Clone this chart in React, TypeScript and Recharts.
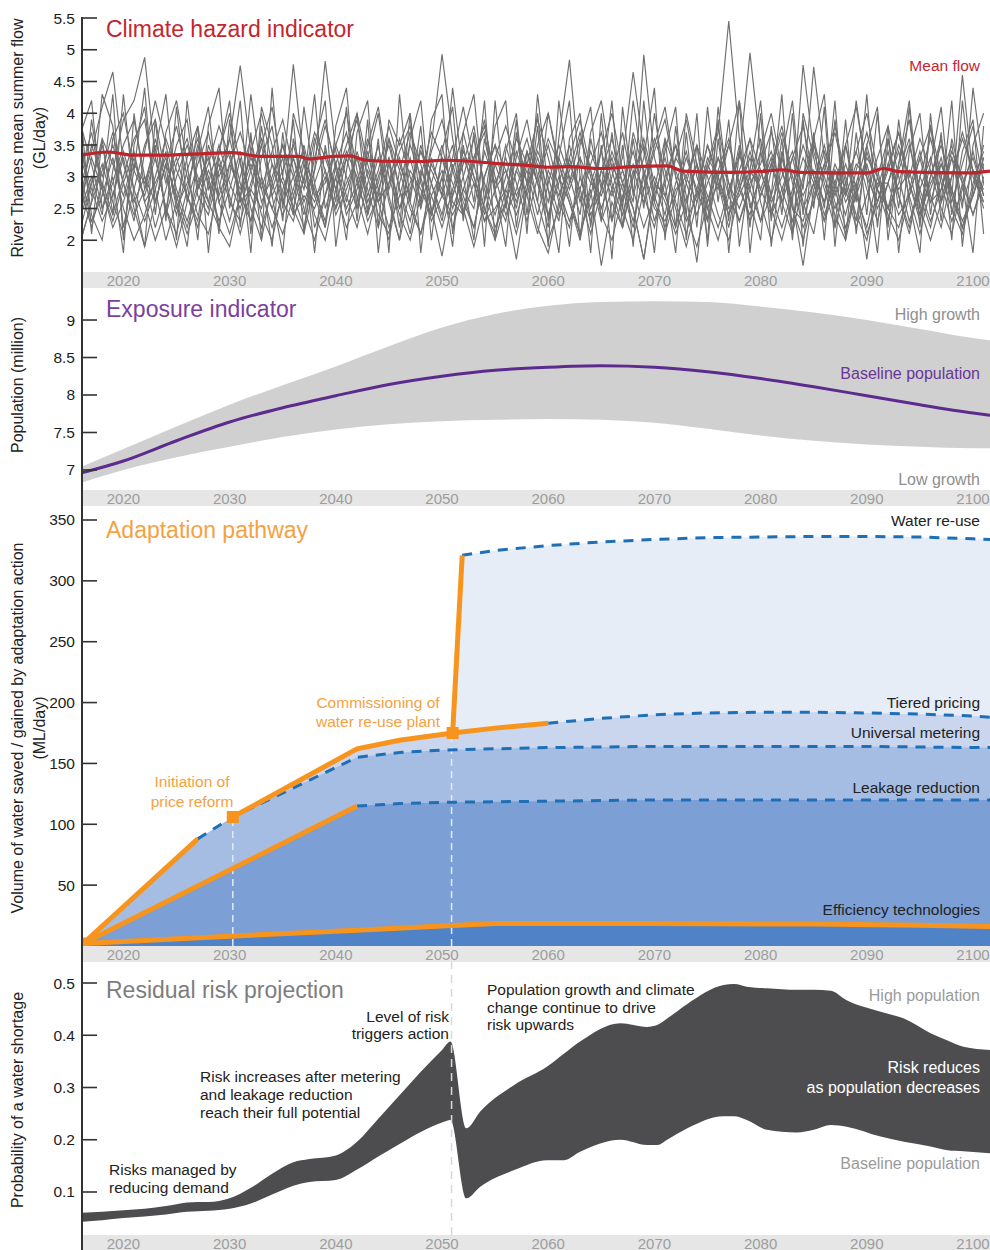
import React from "react"
import { ComposedChart, Line, Area, Scatter, XAxis, YAxis, ReferenceLine } from "recharts"

const FONT = '"Liberation Sans", Arial, Helvetica, sans-serif'
const X_MIN = 2016.1
const X_MAX = 2101.6
const YEAR_TICKS = [2020, 2030, 2040, 2050, 2060, 2070, 2080, 2090, 2100]

// ---- Climate hazard indicator: ensemble of summer flows (GL/day), 2016-2101
const FLOW_TICKS = [2, 2.5, 3, 3.5, 4, 4.5, 5, 5.5]
const FLOW_M1 = [2.9,3.4,4.1,4.65,3.2,2.6,3.0,2.2,2.8,3.5, 3.9,2.7,2.4,3.1,3.6,2.9,2.3,3.3,3.8,2.6, 3.0,3.4,2.2,2.7,3.5,4.0,3.1,2.5,2.9,3.6, 2.8,2.1,3.0,3.7,3.3,2.6,2.4,3.2,3.9,2.8, 3.1,2.5,3.4,2.9,2.2,3.6,4.84,3.0,2.4,2.8, 3.3,2.6,3.7,3.1,2.3,2.9,3.5,2.7,1.65,3.2, 3.8,2.9,2.5,3.0,3.6,2.4,2.8,3.3,2.6,2.1, 3.1,3.7,2.9,2.3,3.4,2.8,2.5,3.2,3.9,2.7, 2.2,3.0,3.5,2.6,3.1,2.8]
const FLOW_M2 = [3.6,2.4,2.0,3.1,3.9,4.2,4.88,3.3,2.5,2.1, 2.8,3.5,3.0,2.2,1.9,2.7,3.4,4.0,3.2,2.6, 2.3,3.0,3.7,3.3,2.8,2.2,2.6,3.5,4.1,3.0, 2.4,2.0,2.7,3.4,3.9,3.1,2.5,1.9,2.6,3.3, 3.8,3.2,2.7,2.1,2.9,3.5,3.0,2.4,3.7,4.2, 3.1,2.5,2.0,2.8,3.4,3.9,3.0,2.3,2.7,3.5, 2.9,2.2,3.1,3.6,2.6,2.0,2.7,3.3,3.8,3.0, 2.4,2.9,3.5,2.8,2.1,2.6,3.2,3.7,2.9,2.3, 3.0,3.6,2.7,2.2,2.9,3.4]
const FLOW_M3 = [2.2,2.9,3.5,2.7,3.3,2.5,1.9,2.6,3.2,3.8, 3.0,2.4,2.1,2.8,3.6,4.75,3.4,2.6,3.0,3.5, 2.7,2.2,3.1,3.8,3.2,2.4,2.8,3.4,2.6,2.0, 2.9,3.5,3.0,2.3,2.7,3.3,4.1,3.2,2.5,2.1, 2.8,3.4,2.9,2.2,1.8,2.6,3.3,3.9,3.1,2.4, 2.0,2.7,3.2,2.8,3.5,4.1,3.0,2.4,1.9,2.6, 3.3,2.9,2.3,2.8,3.4,4.0,3.1,2.5,2.0,2.7, 3.2,2.6,2.1,2.9,3.5,2.8,2.3,3.1,3.6,2.5, 2.0,2.6,3.3,2.9,2.4,3.0]
const FLOW_M4 = [3.1,3.7,2.8,2.3,2.9,3.4,2.6,2.0,2.5,3.2, 3.6,2.9,2.5,3.3,2.7,2.1,2.8,3.5,4.1,3.0, 4.77,3.2,2.4,2.0,2.8,3.4,3.0,2.3,2.7,3.6, 3.1,2.5,2.1,2.9,3.5,2.7,3.2,3.8,2.8,2.2, 2.6,3.3,3.9,3.0,2.4,2.9,3.5,2.7,2.1,2.8, 3.4,2.9,2.3,3.0,3.6,3.1,2.5,1.9,2.6,3.2, 2.8,3.5,4.2,3.0,2.3,2.7,3.3,2.6,1.6,2.8, 3.4,2.9,2.4,3.1,3.7,3.0,2.4,2.0,2.7,3.3, 3.8,3.0,2.5,2.1,2.8,3.5]
const FLOW_M5 = [2.5,3.0,2.4,3.6,4.0,3.1,2.7,3.3,2.5,1.9, 2.6,3.2,3.7,2.9,2.3,3.0,3.6,2.8,2.2,2.7, 3.3,2.6,3.1,4.82,3.4,2.7,2.2,2.9,3.5,2.6, 2.0,2.8,3.4,2.9,2.3,3.1,3.7,3.0,2.4,3.2, 2.7,2.1,2.8,3.5,4.0,3.2,2.6,2.0,2.9,3.4, 2.8,2.2,3.0,3.6,2.9,2.4,3.3,3.9,3.0,2.5, 2.0,2.7,3.4,2.8,2.3,3.1,3.7,2.9,2.2,2.6, 3.2,3.8,3.0,2.4,2.0,2.8,3.4,2.7,2.2,3.0, 3.6,2.9,2.3,2.8,3.4,2.7]
const FLOW_M6 = [3.3,2.7,3.2,2.6,2.1,2.8,3.5,3.9,3.0,2.4, 3.1,3.6,2.9,2.3,2.8,3.4,2.5,2.0,2.9,3.5, 3.0,2.4,3.3,3.9,3.1,2.5,2.9,3.6,2.8,2.2, 2.7,3.3,2.6,3.5,4.93,3.6,2.7,2.2,3.0,3.5, 2.6,1.7,2.8,3.4,3.0,2.4,2.9,3.6,3.1,2.5, 3.0,3.7,2.8,2.2,2.7,3.3,2.6,2.1,2.8,3.5, 3.0,2.4,2.9,3.6,3.1,2.5,2.0,2.7,3.3,2.9, 2.3,2.8,3.5,4.1,3.1,2.5,2.9,3.4,2.7,2.1, 2.8,3.3,2.6,3.2,3.8,2.9]
const FLOW_M7 = [2.0,2.6,3.1,3.7,2.9,2.3,3.4,4.2,3.5,2.8, 2.3,2.9,3.3,2.6,2.1,2.7,3.2,2.8,3.4,3.9, 3.1,2.5,2.0,2.7,3.2,3.7,2.9,2.4,3.0,3.5, 2.8,2.3,3.1,2.7,2.2,2.8,3.4,3.0,2.5,2.0, 2.6,3.1,3.6,2.9,2.4,3.0,2.6,2.1,2.7,3.4, 4.0,3.1,2.6,4.92,3.3,2.7,2.2,2.9,3.5,3.0, 2.4,2.0,2.8,3.3,2.7,3.2,3.8,3.0,2.5,2.9, 3.5,2.8,2.2,2.7,3.2,2.6,3.1,3.7,2.9,2.4, 3.0,3.5,2.8,2.2,2.7,3.2]
const FLOW_M8 = [3.8,3.2,2.5,2.9,3.5,3.9,3.0,2.6,3.2,2.7, 2.2,2.8,3.2,3.8,3.3,2.7,2.3,3.0,2.5,2.1, 2.7,3.3,2.8,2.3,3.0,3.5,4.0,3.2,2.6,2.9, 3.3,2.6,2.1,2.7,3.1,2.5,3.0,3.6,2.9,2.4, 3.0,3.6,3.2,2.6,2.0,2.5,3.1,3.7,3.0,2.3, 2.8,3.3,4.65,3.4,2.6,2.1,2.7,3.3,2.8,2.3, 3.0,3.5,2.9,2.3,2.7,3.2,2.6,2.1,2.9,3.5, 3.0,2.5,2.9,3.4,4.0,3.1,2.5,2.2,2.8,3.4, 2.7,2.2,3.0,3.6,3.1,2.5]
const FLOW_M9 = [2.6,3.3,2.8,2.2,2.6,3.2,2.9,3.5,2.4,3.0, 3.5,3.0,2.6,3.4,4.0,3.2,2.7,2.2,2.8,3.3, 2.5,2.1,2.9,3.4,2.8,3.3,3.9,3.0,2.4,2.1, 3.1,3.7,3.2,2.5,1.75,2.7,3.3,2.9,2.3,2.8, 3.5,2.9,2.3,3.0,3.6,3.2,2.7,2.1,2.8,1.6, 2.6,2.2,3.0,3.5,2.7,2.2,2.9,3.4,2.7,3.1, 3.7,5.45,3.6,2.5,3.0,3.4,2.8,2.3,3.0,3.6, 2.9,2.4,2.0,2.8,3.3,3.0,2.5,2.9,3.5,2.8, 2.3,2.8,3.4,3.0,2.4,2.9]
const FLOW_M10 = [3.0,2.3,2.7,3.3,2.5,2.0,2.4,3.0,3.6,3.1, 2.7,2.2,2.9,3.5,2.9,2.5,3.1,3.6,2.9,2.4, 2.8,3.5,2.7,2.2,3.2,2.6,3.4,2.8,2.2,2.9, 3.6,3.0,2.5,3.2,2.8,2.2,2.8,3.3,3.8,3.0, 2.4,2.8,3.4,2.9,3.5,2.8,2.3,2.8,3.4,2.9, 2.3,2.9,2.5,1.7,2.8,3.6,3.1,2.6,3.2,2.7, 2.2,2.8,3.3,4.95,3.4,2.7,2.2,2.8,3.5,3.0, 2.6,3.2,2.8,2.2,2.7,3.3,3.8,3.0,2.3,2.8, 3.3,2.6,3.0,3.7,3.1,2.6]
const FLOW_M11 = [2.4,2.9,3.6,3.2,2.7,3.3,2.6,2.9,3.3,2.6, 2.1,2.6,3.1,2.7,3.2,3.7,3.1,2.4,2.0,2.8, 3.3,2.8,3.6,3.1,2.5,2.9,3.3,2.6,3.1,3.8, 3.2,2.7,3.5,2.9,2.4,3.2,2.6,2.2,3.0,3.5, 3.1,2.6,3.2,3.9,3.3,2.6,2.2,3.0,2.5,3.1, 3.6,2.9,3.4,2.7,2.2,3.0,3.5,2.9,2.4,2.9, 3.3,2.7,2.3,2.9,3.2,3.7,3.1,2.6,4.76,3.4, 2.8,2.2,2.9,3.4,2.8,2.3,2.9,3.5,3.0,3.6, 3.1,2.5,2.1,2.9,3.3,2.7]
const FLOW_M12 = [2.8,2.2,2.9,2.4,3.0,3.6,3.9,2.8,2.0,2.6, 3.3,3.8,2.8,3.2,2.6,2.3,2.9,3.5,2.7,3.1, 3.5,2.9,2.6,3.1,2.4,2.8,3.3,2.7,3.3,2.8, 3.4,3.8,2.9,2.4,3.3,2.9,2.4,3.3,3.7,2.7, 2.3,3.1,2.7,3.3,2.8,2.3,3.3,2.6,3.2,3.7, 2.9,2.4,3.1,2.6,3.0,2.6,2.1,2.6,3.2,2.6, 3.1,3.6,2.8,2.4,3.1,2.6,3.0,3.4,2.8,4.73, 3.3,2.7,3.2,2.7,2.2,3.0,3.6,2.7,2.1,3.0, 2.6,3.2,2.8,2.3,2.7,3.3]
const FLOW_M13 = [3.4,2.8,2.3,2.7,3.4,2.8,2.3,2.8,3.4,2.5, 2.9,3.4,2.6,2.2,3.2,2.8,3.3,2.9,2.5,3.0, 2.5,3.2,2.7,2.9,3.5,3.0,2.5,3.1,2.6,3.2, 2.5,2.9,3.4,3.1,2.7,2.4,2.8,2.5,3.4,2.9, 3.3,2.7,3.1,2.4,3.1,2.7,3.2,2.8,2.3,3.1, 2.7,3.1,2.5,1.7,2.9,2.7,3.3,3.0,2.6,3.3, 3.0,2.5,2.7,3.1,2.8,3.3,2.6,3.1,2.7,3.1, 2.6,3.1,2.7,3.2,3.0,2.6,3.2,2.8,3.1,2.4, 2.9,3.2,2.7,4.6,3.0,2.6]
const FLOW_M14 = [2.7,3.5,3.0,3.5,2.9,2.4,2.8,3.6,2.9,3.3, 2.7,2.3,3.5,3.0,3.4,2.6,2.8,2.5,3.2,2.9, 2.4,2.7,2.5,3.0,2.5,3.3,2.7,2.1,2.8,3.3, 2.5,3.1,2.8,2.4,3.0,3.5,2.4,2.9,2.3,2.5, 2.8,2.4,2.9,3.2,2.6,3.3,2.8,3.3,2.9,2.7, 3.2,2.8,2.2,3.1,2.5,2.3,2.8,3.0,3.5,2.5, 2.9,2.4,2.8,3.4,2.8,2.4,3.4,2.5,2.3,2.9, 2.3,3.1,2.6,2.9,1.7,2.9,2.9,2.4,2.7,3.3, 2.6,2.8,3.3,2.5,4.4,3.1]
const FLOW_M15 = [4.0,2.1,3.6,2.4,4.3,2.7,1.9,3.9,2.3,4.1, 2.6,3.8,1.8,3.4,4.2,2.2,3.7,2.0,4.4,2.5, 3.9,2.1,3.5,4.2,1.9,3.1,4.0,2.4,3.6,1.8, 4.3,2.6,3.8,2.0,3.4,4.1,2.3,3.7,1.9,4.2, 2.5,3.9,2.1,4.3,2.8,1.8,3.6,4.0,2.2,3.5, 1.7,4.1,2.7,3.3,4.4,2.0,3.8,2.4,4.0,1.9, 3.6,2.3,4.2,1.8,3.4,2.7,4.3,2.1,3.9,2.5, 4.1,1.9,3.5,2.6,4.3,2.2,3.8,1.8,3.4,4.0, 2.4,3.7,2.0,4.2,2.7,3.3]
const FLOW_M16 = [2.3,3.9,2.8,4.3,2.0,3.5,4.1,2.6,3.2,2.0, 4.2,2.8,3.4,2.1,3.9,2.6,4.3,3.0,1.9,3.7, 2.4,4.1,2.9,2.2,3.8,4.4,2.5,3.3,4.0,2.7, 2.0,3.6,4.2,2.4,3.0,1.9,3.7,4.3,2.6,3.8, 4.2,2.2,3.4,2.6,4.0,3.1,1.9,3.5,4.1,2.3, 3.7,2.5,4.2,3.0,1.8,3.6,2.2,4.0,3.2,2.0, 4.1,2.7,3.5,2.2,4.0,1.9,3.3,4.2,2.4,3.7, 2.0,3.9,2.7,4.2,3.0,1.8,3.6,2.5,4.1,2.2, 3.8,2.6,4.2,1.9,3.5,4.0]
const FLOW_M17 = [3.7,4.2,2.5,3.0,1.8,4.0,2.8,3.4,4.3,2.6, 1.9,3.4,4.1,2.6,3.0,4.2,2.1,3.8,2.7,1.8, 3.6,2.9,4.3,2.5,3.0,2.0,3.7,4.2,2.2,3.9, 3.5,4.0,1.8,3.3,2.7,4.4,3.0,2.0,3.6,2.8, 1.9,3.7,2.9,4.0,2.3,3.3,4.2,2.0,3.6,2.8, 4.2,2.2,3.6,2.5,4.0,2.9,1.8,3.7,2.2,4.1, 2.6,3.9,1.9,3.1,4.2,2.3,3.6,2.0,4.0,3.3, 2.5,4.2,2.0,3.7,2.4,4.0,2.2,3.9,2.6,1.8, 4.0,2.3,3.6,2.9,1.8,3.8]
const FLOW_M18 = [2.0,2.6,4.3,3.8,2.2,3.1,4.4,2.4,3.7,4.2, 3.2,2.0,3.8,4.4,2.5,3.3,1.8,4.1,3.5,2.3, 4.0,3.4,1.8,3.5,2.6,4.1,2.3,3.9,1.8,3.3, 2.2,4.0,2.5,3.9,4.3,2.1,3.5,2.6,4.2,2.0, 3.4,4.0,2.4,3.8,1.9,4.2,2.9,3.3,1.8,4.0, 2.3,3.5,1.9,4.2,2.6,3.4,4.1,2.0,3.5,2.3, 3.9,1.8,3.4,2.6,2.0,3.8,2.4,4.0,1.9,3.6, 4.3,2.2,3.9,2.1,3.5,4.1,2.0,3.2,4.2,2.5, 3.2,4.1,2.4,3.4,3.9,2.1]
const FLOW_MEMBERS = [FLOW_M1, FLOW_M2, FLOW_M3, FLOW_M4, FLOW_M5, FLOW_M6, FLOW_M7, FLOW_M8, FLOW_M9, FLOW_M10, FLOW_M11, FLOW_M12, FLOW_M13, FLOW_M14, FLOW_M15, FLOW_M16, FLOW_M17, FLOW_M18]
const FLOW_YEARS = FLOW_M1.map((_, i) => 2016 + i)

const MEAN_YEARS = [2016, 2018.6, 2021, 2024, 2027, 2030.3, 2032.8, 2036.5, 2037.5, 2039.7, 2041.3, 2042.8, 2046, 2048, 2050, 2053, 2055, 2058, 2060, 2062, 2065, 2068, 2071.2, 2072.7, 2077.4, 2080.6, 2082, 2083.7, 2090, 2091.6, 2093, 2099.4, 2101.6]
const MEAN_FLOW = [3.34, 3.39, 3.34, 3.34, 3.36, 3.38, 3.32, 3.32, 3.28, 3.32, 3.33, 3.26, 3.24, 3.24, 3.26, 3.24, 3.21, 3.18, 3.15, 3.16, 3.13, 3.16, 3.17, 3.09, 3.07, 3.09, 3.11, 3.07, 3.06, 3.13, 3.08, 3.06, 3.09]

// ---- Exposure indicator: population (million)
const POP_TICKS = [7, 7.5, 8, 8.5, 9]
const POP_YEARS = [2016, 2020, 2025, 2030, 2035, 2040, 2045, 2050, 2055, 2060, 2065, 2070, 2075, 2080, 2085, 2090, 2095, 2100, 2101.6]
const POP_BASE = [6.96, 7.12, 7.39, 7.64, 7.83, 7.99, 8.14, 8.25, 8.33, 8.37, 8.39, 8.37, 8.31, 8.22, 8.11, 7.99, 7.87, 7.76, 7.73]
const POP_HIGH = [7.04, 7.28, 7.58, 7.87, 8.13, 8.38, 8.65, 8.9, 9.08, 9.19, 9.24, 9.25, 9.24, 9.18, 9.10, 9.00, 8.88, 8.76, 8.73]
const POP_LOW = [6.83, 7.00, 7.17, 7.31, 7.44, 7.54, 7.61, 7.65, 7.67, 7.68, 7.67, 7.63, 7.55, 7.46, 7.39, 7.34, 7.31, 7.29, 7.29]

// ---- Adaptation pathway: water saved / gained (ML/day)
const VOL_TICKS = [50, 100, 150, 200, 250, 300, 350]
const EFF_YEARS = [2016.2, 2030, 2042, 2050, 2055, 2070, 2085, 2095, 2101.6]
const EFF_VOL = [2, 8, 13, 16.5, 18.5, 18.5, 18, 17, 16]
const LEAK_YEARS = [2016.2, 2042, 2046, 2050, 2060, 2070, 2080, 2090, 2100, 2101.6]
const LEAK_VOL = [2, 115, 117, 118, 119, 120, 120, 120, 120, 120]
const METER_YEARS = [2016.2, 2027, 2030.3, 2042, 2046, 2050, 2060, 2070, 2080, 2090, 2100, 2101.6]
const METER_VOL = [2, 88, 106, 155, 159, 161, 163, 164, 164, 164, 163, 163]
const TIER_YEARS = [2030.3, 2042, 2046, 2051, 2055, 2060, 2065, 2070, 2075, 2080, 2085, 2090, 2095, 2100, 2101.6]
const TIER_VOL = [106, 162, 169, 175, 179, 183, 187, 190, 191.5, 192, 192, 191.5, 190.5, 189, 188]
const REUSE_YEARS = [2051, 2051.9, 2055, 2060, 2065, 2070, 2075, 2080, 2085, 2090, 2095, 2100, 2101.6]
const REUSE_VOL = [175, 321, 325, 329, 332, 334, 335.5, 336, 336.5, 336.5, 336, 334.5, 334]
const ACTION_YEARS = [2016.2, 2030.3, 2051]
const ACTION_VOL = [2, 106, 175]
const PRICE_REFORM_YEAR = 2030.3
const REUSE_PLANT_YEAR = 2050.9

// ---- Residual risk: probability of a water shortage
const RISK_TICKS = [0.1, 0.2, 0.3, 0.4, 0.5]
const RISK_YEARS = [2016, 2018, 2020, 2022, 2024, 2026, 2027, 2028, 2030, 2032, 2034, 2036, 2037.5, 2040, 2042, 2044, 2046, 2048, 2050, 2050.8, 2052.3, 2053.6, 2056.8, 2059.9, 2061.5, 2063, 2066.8, 2069.3, 2070.3, 2071.2, 2073.1, 2076.5, 2077.5, 2078.7, 2080.6, 2083.4, 2085, 2086.6, 2088.1, 2091.3, 2093.5, 2096, 2097.6, 2099.1, 2101.6]
const RISK_BASE = [0.043, 0.046, 0.050, 0.053, 0.057, 0.062, 0.063, 0.064, 0.068, 0.078, 0.095, 0.112, 0.119, 0.123, 0.143, 0.168, 0.192, 0.215, 0.233, 0.238, 0.088, 0.110, 0.142, 0.161, 0.161, 0.177, 0.200, 0.190, 0.190, 0.200, 0.222, 0.245, 0.245, 0.238, 0.219, 0.214, 0.219, 0.228, 0.225, 0.206, 0.196, 0.187, 0.180, 0.178, 0.174]
const RISK_HIGH = [0.060, 0.062, 0.065, 0.068, 0.073, 0.080, 0.081, 0.081, 0.088, 0.108, 0.135, 0.157, 0.163, 0.170, 0.196, 0.240, 0.285, 0.330, 0.372, 0.388, 0.222, 0.254, 0.305, 0.340, 0.365, 0.388, 0.423, 0.416, 0.420, 0.432, 0.460, 0.496, 0.498, 0.493, 0.490, 0.487, 0.487, 0.485, 0.467, 0.445, 0.432, 0.404, 0.390, 0.378, 0.372]

// tables for recharts
const flowRows = FLOW_YEARS.map((year, i) => {
	const row: any = { year }
	FLOW_MEMBERS.forEach((m, j) => { row["m" + j] = m[i] })
	return row
})
const toRows = (years: number[], vals: number[]) => years.map((year, i) => ({ year, v: vals[i] }))
const meanRows = toRows(MEAN_YEARS, MEAN_FLOW)
const popRows = POP_YEARS.map((year, i) => ({ year, base: POP_BASE[i], band: [POP_LOW[i], POP_HIGH[i]] }))
const effRows = toRows(EFF_YEARS, EFF_VOL)
const leakRows = toRows(LEAK_YEARS, LEAK_VOL)
const meterRows = toRows(METER_YEARS, METER_VOL)
const tierRows = toRows(TIER_YEARS, TIER_VOL)
const reuseRows = toRows(REUSE_YEARS, REUSE_VOL)
const actionRows = toRows(ACTION_YEARS, ACTION_VOL)
const riskRows = RISK_YEARS.map((year, i) => ({ year, range: [RISK_BASE[i], RISK_HIGH[i]] }))

const ORANGE = "#f7941d"
const DASH_BLUE = "#1f6fb6"

const yearTick = (p: any) => (
	<text x={p.x} y={p.y + 8} textAnchor="middle" dominantBaseline="central" fontSize={15} fill="#9d9d9d" fontFamily={FONT}>{p.payload.value}</text>
)
const valueTick = (p: any) => (
	<g>
		<text x={75} y={p.y} textAnchor="end" dominantBaseline="central" fontSize={15.5} fill="#1c1c1c" fontFamily={FONT}>{p.payload.value}</text>
		<line x1={83} x2={97} y1={p.y} y2={p.y} stroke="#333" strokeWidth={1.6} />
	</g>
)
const square = (p: any) => <rect x={p.cx - 6} y={p.cy - 6} width={12} height={12} fill={ORANGE} />

const xProps: any = { type: "number", dataKey: "year", domain: [X_MIN, X_MAX], ticks: YEAR_TICKS, allowDataOverflow: true, axisLine: false, tickLine: false, tickSize: 0, tickMargin: 0, interval: 0, tick: yearTick }
const yProps: any = { type: "number", width: 82, allowDataOverflow: true, axisLine: false, tickLine: false, tickSize: 0, tickMargin: 0, interval: 0, tick: valueTick }

function Note({ x, y, align = "left", color = "#222", size = 15.5, lh = 17.5, text }: { x: number; y: number; align?: string; color?: string; size?: number; lh?: number; text: string }) {
	const style: React.CSSProperties = { position: "absolute", top: y, fontSize: size, lineHeight: lh + "px", color, whiteSpace: "pre", transform: "translateY(-50%)", textAlign: align as any }
	if (align === "right") style.right = 990 - x
	else if (align === "center") { style.left = x; style.transform = "translate(-50%, -50%)" }
	else style.left = x
	return <div style={style}>{text}</div>
}

function AxisTitle({ cx, cy, text }: { cx: number; cy: number; text: string }) {
	return (
		<div style={{ position: "absolute", left: cx, top: cy, transform: "translate(-50%, -50%) rotate(-90deg)", whiteSpace: "pre", textAlign: "center", fontSize: 16, lineHeight: "22px", color: "#222" }}>{text}</div>
	)
}

const band = (top: number, h: number) => <div style={{ position: "absolute", left: 82, top, width: 908, height: h, background: "#e6e6e6" }} />
const at = (top: number): React.CSSProperties => ({ position: "absolute", left: 0, top })

export default function App() {
	return (
		<div style={{ position: "absolute", left: 0, top: 0, width: 990, height: 1250, background: "#fff", fontFamily: FONT, overflow: "hidden" }}>
			{band(272, 16)}
			{band(490, 16)}
			{band(946, 16)}
			{band(1235, 15)}

			{/* Climate hazard */}
			<div style={at(0)}>
				<ComposedChart width={990} height={288} data={flowRows} margin={{ top: 18, right: 0, bottom: 0, left: 0 }}>
					<XAxis {...xProps} height={16} />
					<YAxis {...yProps} domain={[1.5, 5.5]} ticks={FLOW_TICKS} />
					{FLOW_MEMBERS.map((_, j) => (
						<Line key={j} dataKey={"m" + j} type="linear" stroke="#6f6f6f" strokeWidth={1.15} dot={false} isAnimationActive={false} />
					))}
					<Line data={meanRows} dataKey="v" type="monotone" stroke="#c1232b" strokeWidth={3.2} dot={false} isAnimationActive={false} />
				</ComposedChart>
			</div>

			{/* Exposure */}
			<div style={at(288)}>
				<ComposedChart width={990} height={218} data={popRows} margin={{ top: 0, right: 0, bottom: 0, left: 0 }}>
					<XAxis {...xProps} height={16} />
					<YAxis {...yProps} domain={[6.733, 9.427]} ticks={POP_TICKS} />
					<Area dataKey="band" type="monotone" fill="#d0d0d0" fillOpacity={1} stroke="none" isAnimationActive={false} />
					<Line dataKey="base" type="monotone" stroke="#5d2b8e" strokeWidth={3} dot={false} isAnimationActive={false} />
				</ComposedChart>
			</div>

			{/* Adaptation pathway */}
			<div style={at(506)}>
				<ComposedChart width={990} height={456} margin={{ top: 0, right: 0, bottom: 0, left: 0 }}>
					<XAxis {...xProps} height={16} />
					<YAxis {...yProps} domain={[0, 361.5]} ticks={VOL_TICKS} />
					<Area data={reuseRows} dataKey="v" type="linear" fill="#e6edf7" fillOpacity={1} stroke="none" isAnimationActive={false} />
					<Area data={tierRows} dataKey="v" type="linear" fill="#c9d6ee" fillOpacity={1} stroke="none" isAnimationActive={false} />
					<Area data={meterRows} dataKey="v" type="linear" fill="#a6bde3" fillOpacity={1} stroke="none" isAnimationActive={false} />
					<Area data={leakRows} dataKey="v" type="linear" fill="#7c9fd5" fillOpacity={1} stroke="none" isAnimationActive={false} />
					<Area data={effRows} dataKey="v" type="linear" fill="#4f82c6" fillOpacity={1} stroke="none" isAnimationActive={false} />
					<ReferenceLine segment={[{ x: PRICE_REFORM_YEAR, y: 0 }, { x: PRICE_REFORM_YEAR, y: 106 }]} stroke="#e4e9f2" strokeWidth={1.5} strokeDasharray="7 5" />
					<ReferenceLine segment={[{ x: REUSE_PLANT_YEAR, y: 0 }, { x: REUSE_PLANT_YEAR, y: 175 }]} stroke="#e4e9f2" strokeWidth={1.5} strokeDasharray="7 5" />
					<Line data={meterRows.slice(1)} dataKey="v" type="linear" stroke={DASH_BLUE} strokeWidth={3} strokeDasharray="10 8" dot={false} isAnimationActive={false} />
					<Line data={leakRows.slice(1)} dataKey="v" type="linear" stroke={DASH_BLUE} strokeWidth={3} strokeDasharray="10 8" dot={false} isAnimationActive={false} />
					<Line data={tierRows.slice(5)} dataKey="v" type="linear" stroke={DASH_BLUE} strokeWidth={3} strokeDasharray="10 8" dot={false} isAnimationActive={false} />
					<Line data={reuseRows.slice(1)} dataKey="v" type="linear" stroke={DASH_BLUE} strokeWidth={3} strokeDasharray="10 8" dot={false} isAnimationActive={false} />
					<Line data={effRows} dataKey="v" type="linear" stroke={ORANGE} strokeWidth={5} dot={false} isAnimationActive={false} />
					<Line data={leakRows.slice(0, 2)} dataKey="v" type="linear" stroke={ORANGE} strokeWidth={5} dot={false} isAnimationActive={false} />
					<Line data={meterRows.slice(0, 2)} dataKey="v" type="linear" stroke={ORANGE} strokeWidth={5} dot={false} isAnimationActive={false} />
					<Line data={tierRows.slice(0, 6)} dataKey="v" type="linear" stroke={ORANGE} strokeWidth={5} dot={false} isAnimationActive={false} />
					<Line data={reuseRows.slice(0, 2)} dataKey="v" type="linear" stroke={ORANGE} strokeWidth={5} dot={false} isAnimationActive={false} />
					<Scatter data={actionRows} dataKey="v" shape={square} isAnimationActive={false} />
				</ComposedChart>
			</div>

			{/* Residual risk */}
			<div style={at(962)}>
				<ComposedChart width={990} height={288} data={riskRows} margin={{ top: 0, right: 0, bottom: 0, left: 0 }}>
					<XAxis {...xProps} height={15} />
					<YAxis {...yProps} domain={[0.0177, 0.5402]} ticks={RISK_TICKS} />
					<Area dataKey="range" type="monotone" fill="#4d4d4f" fillOpacity={1} stroke="none" isAnimationActive={false} />
					<ReferenceLine x={REUSE_PLANT_YEAR} stroke="#d8d8d8" strokeWidth={1.5} strokeDasharray="8 6" />
				</ComposedChart>
			</div>

			{/* continuous value axis */}
			<div style={{ position: "absolute", left: 81, top: 17, width: 2, height: 1233, background: "#333" }} />

			<AxisTitle cx={29} cy={138} text={"River Thames mean summer flow\n(GL/day)"} />
			<AxisTitle cx={18} cy={385} text={"Population (million)"} />
			<AxisTitle cx={29} cy={728} text={"Volume of water saved / gained by adaptation action\n(ML/day)"} />
			<AxisTitle cx={18} cy={1100} text={"Probability of a water shortage"} />

			<Note x={106} y={29} size={23} lh={26} color="#c4262e" text="Climate hazard indicator" />
			<Note x={980} y={66} align="right" size={15.5} color="#c4262e" text="Mean flow" />

			<Note x={106} y={309} size={23} lh={26} color="#7b3f9e" text="Exposure indicator" />
			<Note x={980} y={315} align="right" size={16} color="#8e8e8e" text="High growth" />
			<Note x={980} y={374} align="right" size={16} color="#6a3598" text="Baseline population" />
			<Note x={980} y={480} align="right" size={16} color="#8e8e8e" text="Low growth" />

			<Note x={106} y={530} size={23} lh={26} color="#f5a142" text="Adaptation pathway" />
			<Note x={980} y={521} align="right" text="Water re-use" />
			<Note x={980} y={703} align="right" text="Tiered pricing" />
			<Note x={980} y={733} align="right" text="Universal metering" />
			<Note x={980} y={788} align="right" text="Leakage reduction" />
			<Note x={980} y={910} align="right" text="Efficiency technologies" />
			<Note x={378} y={712} align="center" lh={19} color="#f5a142" text={"Commissioning of\nwater re-use plant"} />
			<Note x={192} y={792} align="center" lh={20} color="#f5a142" text={"Initiation of\nprice reform"} />

			<Note x={106} y={990} size={23} lh={26} color="#7d7d7d" text="Residual risk projection" />
			<Note x={449} y={1025} align="right" lh={16.5} text={"Level of risk\ntriggers action"} />
			<Note x={200} y={1095} lh={17.8} text={"Risk increases after metering\nand leakage reduction\nreach their full potential"} />
			<Note x={109} y={1178} lh={17.5} text={"Risks managed by\nreducing demand"} />
			<Note x={487} y={1007} lh={17.5} text={"Population growth and climate\nchange continue to drive\nrisk upwards"} />
			<Note x={980} y={996} align="right" size={16} color="#9a9a9a" text="High population" />
			<Note x={980} y={1078} align="right" size={16} lh={20} color="#ffffff" text={"Risk reduces\nas population decreases"} />
			<Note x={980} y={1164} align="right" size={16} color="#9a9a9a" text="Baseline population" />
		</div>
	)
}
